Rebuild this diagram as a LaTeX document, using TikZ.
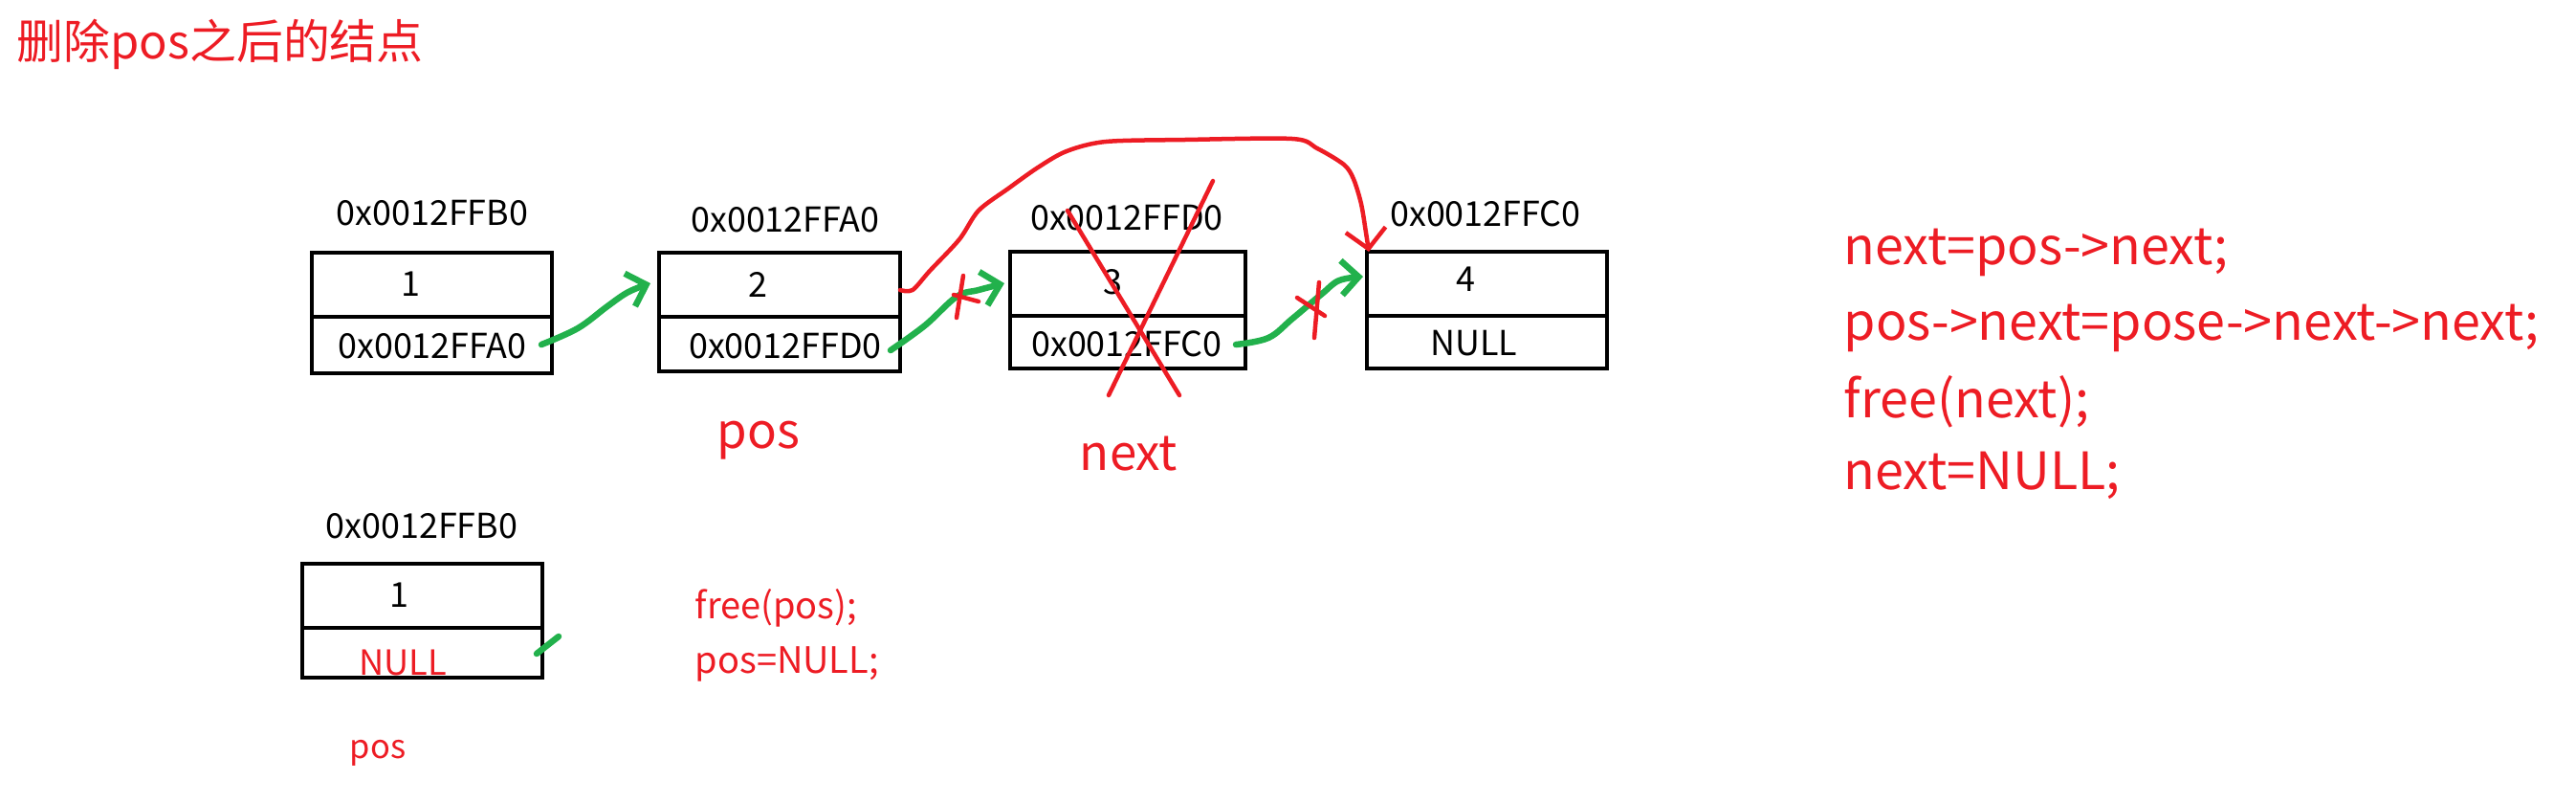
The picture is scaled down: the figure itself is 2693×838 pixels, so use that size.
\documentclass[tikz,border=0pt]{standalone}
\usepackage{fontspec}
\setmainfont{Noto Sans CJK SC}
\usetikzlibrary{arrows.meta}
\definecolor{pred}{HTML}{ED1C24}
\definecolor{pgreen}{HTML}{22B14C}
\begin{document}
\begin{tikzpicture}[x=0.01cm,y=-0.01cm,
  cell/.style={draw=black,line width=0.04cm,inner sep=0,minimum width=2.51cm},
  celltop/.style={cell,minimum height=0.67cm},
  txt/.style={inner sep=0,font=\fontsize{10.2}{12}\selectfont},
  redtxt/.style={inner sep=0,text=pred,font=\fontsize{14.5}{17}\selectfont},
  redsmall/.style={inner sep=0,text=pred,font=\fontsize{10.8}{13}\selectfont},
  codetxt/.style={inner sep=0,anchor=west,text=pred,font=\fontsize{15.3}{18}\selectfont},
  garrow/.style={draw=pgreen,line width=0.065cm,line cap=round,line join=round,-{Straight Barb[length=0.18cm,width=0.36cm]}},
  rline/.style={draw=pred,line width=0.045cm,line cap=round,line join=round},
]
\useasboundingbox (0,0) rectangle (2693,838);

% title
\node[inner sep=0,anchor=west,text=pred,font=\fontsize{13.9}{16}\selectfont] (title) at (17,46) {删除pos之后的结点};

% node 1
\node[txt] (l1) at (452,223) {0x0012FFB0};
\node[celltop] (c1t) at (451.5,297.5) {};
\node[cell,minimum height=0.59cm] (c1b) at (451.5,360.5) {};
\node[txt] (v1) at (429,297) {1};
\node[txt] (p1) at (452,362) {0x0012FFA0};

% node 2
\node[txt] (l2) at (821,230) {0x0012FFA0};
\node[celltop,minimum width=2.52cm] (c2t) at (815,297.5) {};
\node[cell,minimum width=2.52cm,minimum height=0.57cm] (c2b) at (815,359.5) {};
\node[txt] (v2) at (792,297) {2};
\node[txt] (p2) at (821,362) {0x0012FFD0};

% node 3
\node[txt] (l3) at (1178,228) {0x0012FFD0};
\node[celltop,minimum width=2.46cm] (c3t) at (1179,296.5) {};
\node[cell,minimum width=2.46cm,minimum height=0.55cm] (c3b) at (1179,357.5) {};
\node[txt] (v3) at (1163,295) {3};
\node[txt] (p3) at (1178,359) {0x0012FFC0};

% node 4
\node[txt] (l4) at (1553,223) {0x0012FFC0};
\node[celltop] (c4t) at (1554.5,296.5) {};
\node[cell,minimum height=0.55cm] (c4b) at (1554.5,357.5) {};
\node[txt] (v4) at (1532,292) {4};
\node[txt] (p4) at (1541,359) {NULL};

% pointer labels
\node[redtxt] (pos) at (793,460) {pos};
\node[redtxt] (next) at (1180,474) {next};

% bottom node
\node[txt] (l5) at (441,550) {0x0012FFB0};
\node[celltop] (c5t) at (441.5,622.5) {};
\node[cell,minimum height=0.52cm] (c5b) at (441.5,682) {};
\node[txt] (v5) at (417,622) {1};
\node[inner sep=0,text=pred,font=\fontsize{10.3}{12}\selectfont] (p5) at (421,692) {NULL};
\node[inner sep=0,text=pred,font=\fontsize{9.8}{12}\selectfont] (pos2) at (395,787) {pos};
\node[redsmall,anchor=west] (fr1) at (726,635) {free(pos);};
\node[redsmall,anchor=west] (fr2) at (726,694) {pos=NULL;};

% code
\node[codetxt] (k1) at (1927,264) {next=pos->next;};
\node[codetxt] (k2) at (1927,343) {pos->next=pose->next->next;};
\node[codetxt] (k3) at (1927,420) {free(next);};
\node[codetxt] (k4) at (1927,497) {next=NULL;};

% coordinates for hand-drawn connectors
\coordinate (a1s) at (566,360);
\coordinate (a1e) at (680,296);
\coordinate (a2s) at (931,366);
\coordinate (a2e) at (1050,296);
\coordinate (a3s) at (1292,360);
\coordinate (a3e) at (1425,289);
\coordinate (rs) at (941,303);
\coordinate (re) at (1431,263);

% green arrows
\draw[garrow] plot[smooth,tension=0.6] coordinates {(a1s) (604,343) (635,320) (657,305) (a1e)};
\draw[garrow] plot[smooth,tension=0.6] coordinates {(a2s) (967,340) (1000,310) (1023,303) (a2e)};
\draw[garrow] plot[smooth,tension=0.6] coordinates {(a3s) (1326,353) (1351,333) (1382,307) (1400,293) (a3e)};
\draw[draw=pgreen,line width=0.065cm,line cap=round] (561,683) -- (584,665);

% red bypass curve
\draw[rline,-{Straight Barb[length=0.2cm,width=0.42cm]}] plot[smooth,tension=0.5] coordinates {(rs) (954,303) (972,283) (1003,250) (1023,220) (1054,197) (1085,175) (1115,158) (1156,148) (1238,146) (1351,145) (1377,155) (1405,172) (1415,187) (1423,213) (1428,243) (re)};

% red cross over node 3
\draw[rline] (1268,189) -- (1159,413);
\draw[rline] (1116,220) -- (1233,413);

% red cut marks
\draw[rline] (1007,288) -- (1000,332);
\draw[rline] (997,308) -- (1023,315);
\draw[rline] (1379,295) -- (1374,353);
\draw[rline] (1356,311) -- (1385,330);
\end{tikzpicture}
\end{document}
